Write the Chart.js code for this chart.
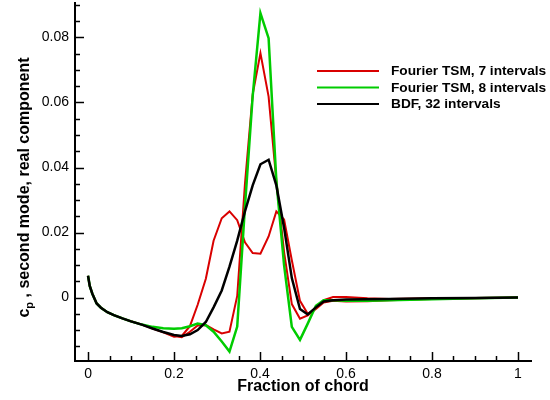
<!DOCTYPE html>
<html>
<head>
<meta charset="utf-8">
<script src="https://cdn.jsdelivr.net/npm/chart.js@4.4.1/dist/chart.umd.min.js"></script>
<style>
html,body{margin:0;padding:0;background:#fff;}
#wrap{width:550px;height:400px;position:relative;}
</style>
</head>
<body>
<div id="wrap"><canvas id="c" width="550" height="400"></canvas></div>
<script>
// ---- data ----
const chordX = [0, 0.004, 0.01, 0.02, 0.03, 0.045, 0.06, 0.08, 0.1, 0.125, 0.15, 0.175, 0.2, 0.218, 0.237, 0.255, 0.274, 0.292, 0.311, 0.329, 0.347, 0.365, 0.383, 0.401, 0.42, 0.438, 0.456, 0.474, 0.493, 0.511, 0.53, 0.548, 0.57, 0.6, 0.65, 0.7, 0.8, 0.9, 1.0];

const tsm7SurfaceA = [0.0067, 0.0036, 0.0012, -0.0018, -0.0031, -0.0045, -0.0054, -0.0064, -0.0073, -0.0083, -0.0095, -0.0107, -0.0118, -0.0122, -0.0105, -0.0086, -0.0084, -0.0098, -0.0110, -0.0105, 0.0005, 0.0350, 0.0625, 0.0752, 0.0618, 0.0360, 0.0140, -0.0020, -0.0065, -0.0055, -0.0035, -0.0015, -0.0010, -0.0012, -0.0011, -0.0008, -0.0004, -0.0002, 0.0];
const tsm7SurfaceB = [0.0067, 0.0036, 0.0012, -0.0018, -0.0031, -0.0045, -0.0054, -0.0064, -0.0073, -0.0083, -0.0095, -0.0107, -0.0120, -0.0118, -0.0088, -0.0022, 0.0058, 0.0175, 0.0244, 0.0265, 0.0238, 0.0170, 0.0137, 0.0135, 0.0188, 0.0265, 0.0240, 0.0115, -0.0010, -0.0050, -0.0035, -0.0008, 0.0002, 0.0002, -0.0002, -0.0004, -0.0002, -0.0001, 0.0];
const tsm8 = [0.0067, 0.0036, 0.0012, -0.0018, -0.0031, -0.0045, -0.0054, -0.0064, -0.0073, -0.0083, -0.0090, -0.0094, -0.0096, -0.0094, -0.0088, -0.0080, -0.0085, -0.0105, -0.0135, -0.0166, -0.0089, 0.0280, 0.0620, 0.0875, 0.0798, 0.0360, 0.0100, -0.0090, -0.0130, -0.0080, -0.0025, -0.0008, -0.0008, -0.0010, -0.0010, -0.0008, -0.0005, -0.0002, 0.0];
const bdf32 = [0.0067, 0.0036, 0.0012, -0.0018, -0.0031, -0.0045, -0.0054, -0.0064, -0.0073, -0.0083, -0.0095, -0.0106, -0.0115, -0.0118, -0.0113, -0.0100, -0.0075, -0.0030, 0.0022, 0.0095, 0.0175, 0.0265, 0.0345, 0.0410, 0.0424, 0.0345, 0.0215, 0.0060, -0.0035, -0.0052, -0.0030, -0.0012, -0.0008, -0.0006, -0.0005, -0.0004, -0.0002, -0.0001, 0.0];

const seriesNames = ["Fourier TSM, 7 intervals", "Fourier TSM, 8 intervals", "BDF, 32 intervals"];
const xTickValues = [0, 0.2, 0.4, 0.6, 0.8, 1];
const xTickLabels = ["0", "0.2", "0.4", "0.6", "0.8", "1"];
const yTickValues = [0, 0.02, 0.04, 0.06, 0.08];
const yTickLabels = ["0", "0.02", "0.04", "0.06", "0.08"];
const xTitle = "Fraction of chord";
const yTitleMain = "c";
const yTitleSub = "p";
const yTitleRest = " , second mode, real component";

// ---- build point lists ----
function pts(xs, ys) { return xs.map((x, i) => ({x: x, y: ys[i]})); }
// closed-loop surface: A from trailing edge to leading edge, then B back
const redPts = pts(chordX, tsm7SurfaceA).reverse().concat(pts(chordX, tsm7SurfaceB));
const greenPts = pts(chordX, tsm8);
const blackPts = pts(chordX, bdf32);

const FONT = "'Liberation Sans', Arial, Helvetica, sans-serif";

const decor = {
  id: 'decor',
  afterDraw(chart) {
    const ctx = chart.ctx;
    const xs = chart.scales.x, ys = chart.scales.y;
    const L = chart.chartArea.left, B = chart.chartArea.bottom;
    ctx.save();
    ctx.strokeStyle = '#000';
    ctx.lineWidth = 1.5;
    // x ticks (inward)
    for (let k = 0; k <= 20; k++) {
      const v = k * 0.05;
      const px = Math.round(xs.getPixelForValue(v)) + 0.5;
      const major = (k % 4 === 0);
      ctx.beginPath();
      ctx.moveTo(px, B);
      ctx.lineTo(px, B - (major ? 9 : 5));
      ctx.stroke();
    }
    // y ticks (inward)
    for (let k = -3; k <= 18; k++) {
      const v = k * 0.005;
      if (v < ys.min || v > ys.max) continue;
      const py = Math.round(ys.getPixelForValue(v)) + 0.5;
      const major = (k % 4 === 0);
      ctx.beginPath();
      ctx.moveTo(L, py);
      ctx.lineTo(L + (major ? 9 : 5), py);
      ctx.stroke();
    }
    // x title
    ctx.fillStyle = '#000';
    ctx.font = "bold 16px " + FONT;
    ctx.textAlign = 'center';
    ctx.textBaseline = 'alphabetic';
    ctx.fillText(xTitle, (chart.chartArea.left + chart.chartArea.right) / 2, 390.5);
    // y title, rotated, with subscript
    ctx.save();
    ctx.translate(28.5, 187.5);
    ctx.rotate(-Math.PI / 2);
    ctx.textAlign = 'left';
    ctx.font = "bold 16px " + FONT;
    const wMain = ctx.measureText(yTitleMain).width;
    const wRest = ctx.measureText(yTitleRest).width;
    ctx.font = "bold 11px " + FONT;
    const wSub = ctx.measureText(yTitleSub).width;
    let x0 = -(wMain + wSub + wRest) / 2;
    ctx.font = "bold 16px " + FONT;
    ctx.fillText(yTitleMain, x0, 0);
    ctx.font = "bold 11px " + FONT;
    ctx.fillText(yTitleSub, x0 + wMain, 4);
    ctx.font = "bold 16px " + FONT;
    ctx.fillText(yTitleRest, x0 + wMain + wSub, 0);
    ctx.restore();
    // legend
    const legY = [71, 87.5, 104];
    ctx.font = "bold 13.7px " + FONT;
    ctx.textAlign = 'left';
    ctx.textBaseline = 'middle';
    chart.data.datasets.forEach((ds, i) => {
      ctx.strokeStyle = ds.borderColor;
      ctx.lineWidth = 2;
      ctx.beginPath();
      ctx.moveTo(317, legY[i]);
      ctx.lineTo(379, legY[i]);
      ctx.stroke();
      ctx.fillStyle = '#000';
      ctx.fillText(ds.label, 391, legY[i] + 0.5);
    });
    ctx.restore();
  }
};

new Chart(document.getElementById('c'), {
  type: 'scatter',
  data: {
    datasets: [
      {label: seriesNames[0], data: redPts, showLine: true, borderColor: '#d90000', borderWidth: 2, pointRadius: 0, order: 3, tension: 0},
      {label: seriesNames[1], data: greenPts, showLine: true, borderColor: '#00cc00', borderWidth: 2.5, pointRadius: 0, order: 2, tension: 0},
      {label: seriesNames[2], data: blackPts, showLine: true, borderColor: '#000000', borderWidth: 2.5, pointRadius: 0, order: 1, tension: 0}
    ]
  },
  options: {
    responsive: false,
    animation: false,
    devicePixelRatio: 1,
    layout: {padding: {top: 3, right: 19, left: 0, bottom: 0}},
    plugins: {legend: {display: false}, tooltip: {enabled: false}},
    scales: {
      x: {
        type: 'linear', min: -0.0303, max: 1.0303,
        grid: {display: false, drawTicks: false},
        border: {display: true, color: '#000', width: 2},
        afterFit(s) { s.height = 39; s.paddingLeft = 0; s.paddingRight = 0; s.paddingTop = 0; s.paddingBottom = 0; },
        afterBuildTicks(s) { s.ticks = xTickValues.map(v => ({value: v})); },
        ticks: {
          padding: 5, color: '#000', maxRotation: 0, autoSkip: false,
          font: {family: FONT, size: 14},
          callback(v) { const i = xTickValues.indexOf(v); return i >= 0 ? xTickLabels[i] : ''; }
        }
      },
      y: {
        type: 'linear', min: -0.0195, max: 0.0906,
        grid: {display: false, drawTicks: false},
        border: {display: true, color: '#000', width: 2},
        afterFit(s) { s.width = 75; s.paddingTop = 0; s.paddingBottom = 0; s.paddingLeft = 0; s.paddingRight = 0; },
        afterBuildTicks(s) { s.ticks = yTickValues.map(v => ({value: v})); },
        ticks: {
          padding: 6, color: '#000', autoSkip: false,
          font: {family: FONT, size: 14},
          callback(v) { const i = yTickValues.indexOf(v); return i >= 0 ? yTickLabels[i] : ''; }
        }
      }
    }
  },
  plugins: [decor]
});
</script>
</body>
</html>
